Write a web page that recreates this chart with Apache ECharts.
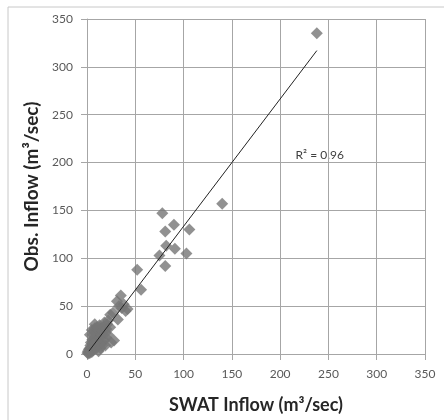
<!DOCTYPE html>
<html>
<head>
<meta charset="utf-8">
<script src="https://cdn.jsdelivr.net/npm/echarts@6/dist/echarts.min.js"></script>
<style>html,body{margin:0;padding:0;background:#fff;}#c{width:444px;height:420px;}</style>
</head>
<body>
<div id="c"></div>
<script>
// Observed vs SWAT simulated inflow (m3/sec): [SWAT, Obs]
const swatObs = [
  [238,335],[140,157],[78,147],[81,128],[90,135],[106,130],[82,113],[91,110],
  [75,103],[103,105],[81,92],[52,88],[56,67],[35,61],[31,55],[38,52],[33,50],
  [42,47],[40,45],[36,48],[27,43],[32,36],[24,41],[28,14],
  [0.5,1],[1,3],[1.5,0.5],[2,5],[2,2],[3,1],[3,6],[3.5,9],[4,4],[4,12],[5,7],
  [5,2],[5.5,15],[6,10],[6,20],[6.5,4],[7,13],[7,24],[7.5,8],[8,17],[8,27],
  [9,11],[9,22],[10,6],[10,15],[10,28],[11,19],[11,25],[12,9],[12,14],[12,3],
  [13,22],[13,30],[14,17],[14,26],[14,6],[15,11],[15,20],[16,24],[16,9],[17,29],
  [18,14],[18,33],[19,22],[19,9],[20,26],[20,17],[21,31],[22,35],[22,20],[24,28],
  [5,25],[3,20],[8,31],[25,12]
];
// Linear trend line endpoints
const trendLine = [[2,3],[238,317]];
const r2Label = 'R\u00B2 = 0.96';
const axisTicks = [0,50,100,150,200,250,300,350];

const chart = echarts.init(document.getElementById('c'));
const gridColor = '#a6a6a6';
const axisCommon = {
  type: 'value', min: axisTicks[0], max: axisTicks[axisTicks.length-1], interval: 50,
  axisLine: {show: true, lineStyle: {color: gridColor, width: 1}},
  axisTick: {show: true, length: 6, lineStyle: {color: gridColor}},
  splitLine: {show: true, lineStyle: {color: gridColor, width: 1}},
  axisLabel: {color: '#595959', fontFamily: 'Lato', fontSize: 12},
  nameLocation: 'middle',
  nameTextStyle: {color: '#262626', fontFamily: 'Lato', fontWeight: 'bold', fontSize: 18}
};
chart.setOption({
  animation: false,
  backgroundColor: '#fff',
  grid: {left: 87, right: 19, top: 19, bottom: 66},
  xAxis: Object.assign({}, axisCommon, {name: 'SWAT Inflow (m\u00B3/sec)', nameGap: 42,
    axisLabel: Object.assign({}, axisCommon.axisLabel, {margin: 14})}),
  yAxis: Object.assign({}, axisCommon, {name: 'Obs. Inflow (m\u00B3/sec)', nameGap: 46,
    nameTextStyle: Object.assign({}, axisCommon.nameTextStyle, {fontSize: 19}),
    axisLabel: Object.assign({}, axisCommon.axisLabel, {margin: 14})}),
  graphic: [{type: 'rect', shape: {x: 8, y: 7, width: 600, height: 600}, style: {fill: 'none', stroke: '#c8c8c8', lineWidth: 1}, silent: true, z: -1}],
  series: [
    {type: 'scatter', data: swatObs, symbol: 'diamond', symbolSize: 12,
     itemStyle: {color: '#767676'}, z: 2},
    {type: 'line', data: trendLine, showSymbol: false, symbol: 'none',
     lineStyle: {color: '#222', width: 1}, z: 3}
  ]
});
const p = chart.convertToPixel({gridIndex: 0}, [216, 208]);
chart.setOption({graphic: [{}, {type: 'text', x: p[0], y: p[1], style: {text: r2Label, fill: '#404040', font: '12px Lato', verticalAlign: 'middle'}}]});
</script>
</body>
</html>
